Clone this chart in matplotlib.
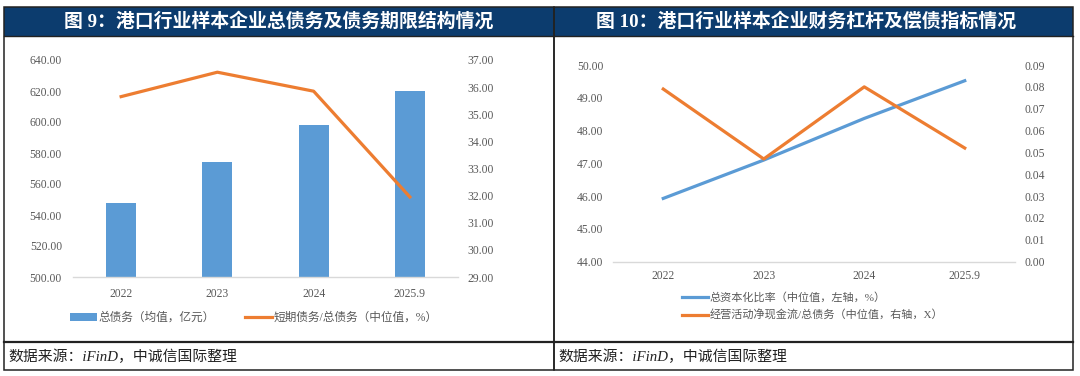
import matplotlib
matplotlib.use("Agg")
import matplotlib.pyplot as plt
from matplotlib.patches import Rectangle, Patch
from matplotlib.lines import Line2D
import numpy as np

plt.rcParams['font.family'] = ['Liberation Serif', 'Noto Sans CJK SC', 'DejaVu Sans']

# ---------------- data ----------------
categories = ['2022', '2023', '2024', '2025.9']
total_debt = [547.5, 574.0, 598.0, 620.0]          # 总债务（均值，亿元）
short_ratio = [35.65, 36.55, 35.85, 31.95]          # 短期债务/总债务（中位值，%）
cap_ratio = [45.93, 47.10, 48.37, 49.52]            # 总资本化比率（中位值，左轴，%）
ocf_debt = [0.079, 0.047, 0.080, 0.052]             # 经营活动净现金流/总债务（中位值，右轴，X）

title_left = '图 9：港口行业样本企业总债务及债务期限结构情况'
title_right = '图 10：港口行业样本企业财务杠杆及偿债指标情况'
source_text = '数据来源：iFinD，中诚信国际整理'
leg_left = ['总债务（均值，亿元）', '短期债务/总债务（中位值，%）']
leg_right = ['总资本化比率（中位值，左轴，%）', '经营活动净现金流/总债务（中位值，右轴，X）']

BLUE = '#5B9BD5'
ORANGE = '#ED7D31'
NAVY = '#0C3C6E'
TICK = '#595959'

W, H = 1080, 376
fig = plt.figure(figsize=(W / 100, H / 100), dpi=100)


def fx(x):
    return x / W


def fy(y):
    return 1 - y / H


def rect(x0, y0, x1, y1, **kw):
    fig.add_artist(Rectangle((fx(x0), fy(y1)), fx(x1) - fx(x0), fy(y0) - fy(y1),
                             transform=fig.transFigure, **kw))


# ---------------- panel frames ----------------
for (x0, x1) in [(4, 554), (554, 1072.5)]:
    rect(x0, 7, x1, 35.5, facecolor=NAVY, edgecolor='none', zorder=0)
    rect(x0, 7, x1, 370, facecolor='none', edgecolor='#222222', linewidth=1.1, zorder=5)
    fig.add_artist(Line2D([fx(x0), fx(x1)], [fy(35.5), fy(35.5)], transform=fig.transFigure,
                          color='#222222', linewidth=1.0, zorder=5))
    fig.add_artist(Line2D([fx(x0), fx(x1)], [fy(341.5), fy(341.5)], transform=fig.transFigure,
                          color='#222222', linewidth=1.6, zorder=5))

fig.text(fx(279), fy(21.5), title_left, color='white', fontsize=13.6, fontweight='bold',
         ha='center', va='center')
fig.text(fx(806), fy(21.5), title_right, color='white', fontsize=13.6, fontweight='bold',
         ha='center', va='center')
for x in (8, 558):
    fig.text(fx(x), fy(357), source_text, color='#222222', fontsize=10.7, style='italic',
             ha='left', va='center')


def style_axes(ax):
    for s in ['top', 'left', 'right']:
        ax.spines[s].set_visible(False)
    ax.spines['bottom'].set_color('#D9D9D9')
    ax.spines['bottom'].set_linewidth(1.0)
    ax.tick_params(axis='both', length=0, labelsize=8.4, labelcolor=TICK)


x = np.arange(len(categories))

# ---------------- left chart ----------------
axL = fig.add_axes([fx(73), fy(277), fx(458) - fx(73), fy(60) - fy(277)])
axL.bar(x, total_debt, width=0.31, color=BLUE, zorder=2)
axL.set_xlim(-0.5, len(categories) - 0.5)
axL.set_ylim(500, 640)
axL.set_yticks(np.arange(500, 641, 20))
axL.yaxis.set_major_formatter(matplotlib.ticker.FormatStrFormatter('%.2f'))
axL.set_xticks(x)
axL.set_xticklabels(categories)
style_axes(axL)
axL.tick_params(axis='y', pad=8)
axL.tick_params(axis='x', pad=8)
axL2 = axL.twinx()
axL2.plot(x, short_ratio, color=ORANGE, linewidth=2.3, zorder=3)
axL2.set_ylim(29, 37)
axL2.set_yticks(np.arange(29, 37.01, 1))
axL2.yaxis.set_major_formatter(matplotlib.ticker.FormatStrFormatter('%.2f'))
style_axes(axL2)
axL2.spines['bottom'].set_visible(False)
axL2.tick_params(axis='y', pad=7)

handlesL = [Patch(facecolor=BLUE, edgecolor='none'),
            Line2D([], [], color=ORANGE, linewidth=2.3)]
fig.legend(handlesL, leg_left, loc='center', bbox_to_anchor=(fx(254), fy(318)), ncol=2,
           frameon=False, fontsize=8.4, labelcolor=TICK, handlelength=2.3, handleheight=0.6,
           handletextpad=0.15, columnspacing=2.6)

# ---------------- right chart ----------------
axR = fig.add_axes([fx(613), fy(261.7), fx(1015) - fx(613), fy(65) - fy(261.7)])
axR.plot(x, cap_ratio, color=BLUE, linewidth=2.3, zorder=3)
axR.set_xlim(-0.5, len(categories) - 0.5)
axR.set_ylim(44, 50)
axR.set_yticks(np.arange(44, 50.01, 1))
axR.yaxis.set_major_formatter(matplotlib.ticker.FormatStrFormatter('%.2f'))
axR.set_xticks(x)
axR.set_xticklabels(categories)
style_axes(axR)
axR.tick_params(axis='y', pad=7)
axR.tick_params(axis='x', pad=6)
axR2 = axR.twinx()
axR2.plot(x, ocf_debt, color=ORANGE, linewidth=2.3, zorder=3)
axR2.set_ylim(0, 0.09)
axR2.set_yticks(np.arange(0, 0.0901, 0.01))
axR2.yaxis.set_major_formatter(matplotlib.ticker.FormatStrFormatter('%.2f'))
style_axes(axR2)
axR2.spines['bottom'].set_visible(False)
axR2.tick_params(axis='y', pad=7)

handlesR = [Line2D([], [], color=BLUE, linewidth=2.3),
            Line2D([], [], color=ORANGE, linewidth=2.3)]
fig.legend(handlesR, leg_right, loc='center left', bbox_to_anchor=(fx(672), fy(306.5)), ncol=1,
           frameon=False, fontsize=8.0, labelcolor=TICK, handlelength=2.3,
           handletextpad=0.15, labelspacing=0.65)

fig.savefig('out.png', dpi=100)
